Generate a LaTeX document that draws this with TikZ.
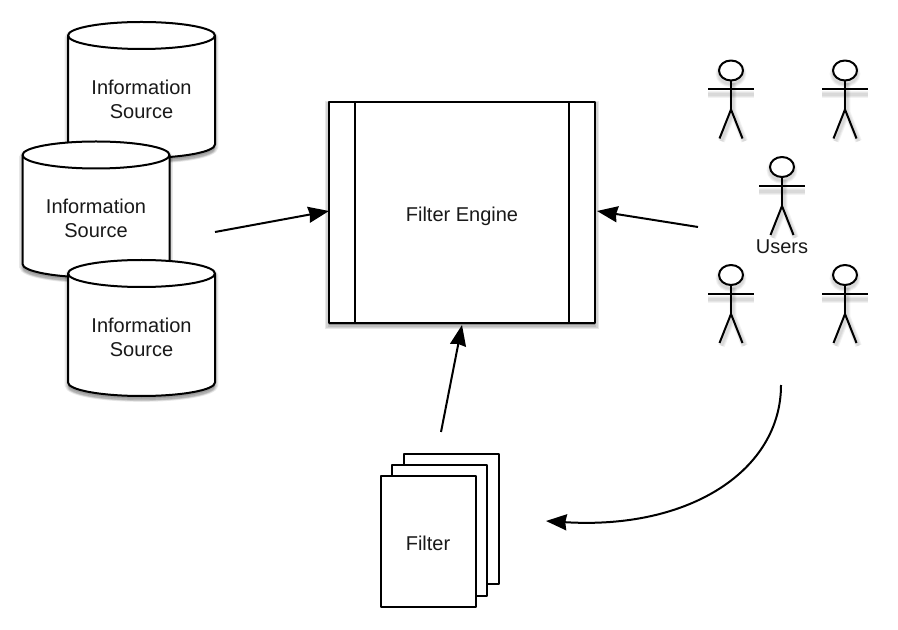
\documentclass[tikz,border=0pt]{standalone}
\usepackage{fontspec}
\setmainfont{Liberation Sans}
\usetikzlibrary{arrows.meta}
\tikzset{
  ink/.style={line width=1.5pt,draw=black,line join=round},
  soft/.style={draw=black,fill=black,draw opacity=.09,fill opacity=.09,line width=#1},
  softline/.style={draw=black,draw opacity=.05,line width=#1},
  label/.style={font=\fontsize{15pt}{18pt}\selectfont,align=center,inner sep=0pt,text=black!90},
  link/.style={ink,-{Stealth[length=15.5pt,width=12pt,inset=1pt]}},
  sheet/.style={ink,fill=white,minimum width=71.5pt,minimum height=98pt,inner sep=0pt,anchor=north west}
}
% shadowed cylinder: left x, top y, text node name
\newcommand{\infosource}[3]{%
  \def\cyl{(#1,#2+13.5) arc[x radius=73.5,y radius=13.5,start angle=180,end angle=360] -- (#1+147,#2+122.5) arc[x radius=73.5,y radius=13.5,start angle=0,end angle=180] -- cycle}
  \foreach \w/\d in {5pt/2.5,3pt/3,1pt/4}{\path[soft=\w,yshift=-\d*0.75pt] \cyl;}
  \path[ink,fill=white] \cyl;
  \draw[ink] (#1,#2+13.5) arc[x radius=73.5,y radius=13.5,start angle=180,end angle=0];
  \node[label] (#3) at (#1+73.5,#2+77) {Information\\Source};
}
% stick figure: centre x, head centre y
\newcommand{\stickuser}[3]{%
  \coordinate (#3) at (#1,#2);
  \foreach \w in {5pt,3.5pt,2pt}{
    \draw[softline=\w,yshift=-4pt] (#1-23,#2+19) -- (#1+23,#2+19);
    \draw[softline=\w,yshift=-2pt,xshift=1.5pt] (#1,#2+10) -- (#1,#2+39) (#1-11.5,#2+68) -- (#1,#2+39) -- (#1+11.5,#2+68);
    \draw[softline=\w,yshift=-2.5pt] (#1,#2) ellipse[x radius=12,y radius=10];
  }
  \draw[ink] (#1,#2+10) -- (#1,#2+39);
  \draw[ink] (#1-23,#2+19) -- (#1+23,#2+19);
  \draw[ink] (#1-11.5,#2+68) -- (#1,#2+39) -- (#1+11.5,#2+68);
  \draw[ink,fill=white] (#1,#2) ellipse[x radius=12,y radius=10];
}
\begin{document}
\begin{tikzpicture}[x=0.75pt,y=-0.75pt]
\useasboundingbox (0,0) rectangle (898,630);
\fill[white] (0,0) rectangle (898,630);

% information sources
\infosource{68}{22}{srcA}
\infosource{22.5}{141.5}{srcB}
\infosource{68}{260}{srcC}

% filter engine
\foreach \w/\d in {6pt/3,4pt/3,2pt/3}{\path[soft=\w] (329,102+\d) rectangle (595,322.5+\d);}
\node[ink,fill=white,minimum width=199.5pt,minimum height=165.4pt,inner sep=0pt] (engine) at (462,212.3) {};
\draw[ink] (355,102) -- (355,322.5) (569,102) -- (569,322.5);
\node[label] (engineText) at (462,216) {Filter Engine};

% users
\stickuser{731}{70.5}{userA}
\stickuser{845}{70.5}{userB}
\stickuser{782}{167}{userC}
\stickuser{731}{275}{userD}
\stickuser{845}{275}{userE}
\node[label] (users) at (782,247) {Users};

% filters
\node[sheet] (pageC) at (402.5,452.5) {};
\node[sheet] (pageB) at (390.5,464) {};
\node[sheet] (pageA) at (379.5,475) {};
\node[label] (filterText) at (428,543) {Filter};

% connector ends
\coordinate (srcOut) at (215,232);
\coordinate (engWest) at (329,211);
\coordinate (userOut) at (698,227);
\coordinate (engEast) at (597,211);
\coordinate (filterOut) at (441,432);
\coordinate (engSouth) at (462,325);
\coordinate (usersDown) at (781,385);
\coordinate (filterIn) at (546,521);

\draw[link] (srcOut) -- (engWest);
\draw[link] (userOut) -- (engEast);
\draw[link] (filterOut) -- (engSouth);
\draw[link] (usersDown) .. controls (781,470) and (690,530) .. (filterIn);
\end{tikzpicture}
\end{document}
